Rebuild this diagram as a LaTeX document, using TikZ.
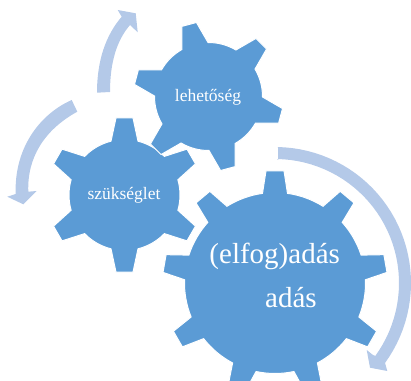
\documentclass[tikz,border=0pt]{standalone}
\usepackage{fontspec}
\setmainfont{Liberation Serif}
\definecolor{gearblue}{HTML}{5B9BD5}
\definecolor{arrowblue}{HTML}{B4C9E8}
\tikzset{
  gearshape/.style={fill=gearblue,draw=white,line width=1pt,line join=miter},
  arrowshape/.style={fill=arrowblue,draw=none},
  smalllabel/.style={text=white,anchor=base,inner sep=0pt,font=\fontsize{17.5}{20}\selectfont},
  biglabel/.style={text=white,anchor=base,inner sep=0pt,font=\fontsize{29}{34}\selectfont}
}
% centre x, centre y (from top), body radius, tip radius, teeth, first angle, tip half width, base half width
\newcommand{\gearat}[8]{%
  \pgfmathsetmacro{\gstep}{360/#5}%
  \pgfmathsetmacro{\gb}{asin(#8/#3)}%
  \pgfmathsetmacro{\gt}{asin(#7/#4)}%
  \pgfmathsetmacro{\gstart}{#6-\gb}%
  \pgfmathtruncatemacro{\glast}{#5-1}%
  \begin{scope}[shift={(#1pt,380pt-#2pt)}]
    \path[gearshape] (\gstart:#3pt)
      foreach \i [evaluate=\i as \a using #6+\i*\gstep] in {0,...,\glast} {
        -- ({\a-\gt}:#4pt) -- ({\a+\gt}:#4pt) -- ({\a+\gb}:#3pt)
        arc[start angle={\a+\gb},end angle={\a+\gstep-\gb},radius=#3pt]
      } -- cycle;
  \end{scope}%
}
\begin{document}
\begin{tikzpicture}[x=1pt,y=1pt]
  \useasboundingbox (0,0) rectangle (411,380);
  \clip (0,0) rectangle (411,380);
  \gearat{275}{283}{90.5}{112.5}{9}{90}{9}{12.5}
  \gearat{124.5}{195}{55.5}{77.5}{6}{90}{8.5}{13.5}
  \gearat{208.5}{96.5}{54}{75}{6}{105}{7.5}{13.5}
  \begin{scope}[yshift=380pt,yscale=-1]
    % upper arrow
    \path[arrowshape] (97,92.7) .. controls (97,60) and (106,35) .. (121.7,16.7)
      -- (117.7,10) -- (135.7,13.3) -- (137.7,32.3) -- (130,25)
      .. controls (117,40) and (110,62) .. (110,92) -- cycle;
    % left arrow
    \path[arrowshape] (71.7,100) .. controls (38,115) and (14,150) .. (15.7,194)
      -- (7.3,196.7) -- (23.3,204.3) -- (36.7,191) -- (28.3,191.7)
      .. controls (27,158) and (44,130) .. (77.3,111.7) -- cycle;
    % right arrow
    \path[arrowshape] (278,147.3)
      -- plot[domain=89:-36,samples=40] ({275+136*cos(\x)},{283-136*sin(\x)})
      -- (387.3,371) -- (370,367.7) -- (366.7,350) -- (373,355)
      -- plot[domain=-36:89,samples=40] ({275+124*cos(\x)},{283-124*sin(\x)})
      -- (278,160) -- cycle;
    \node[smalllabel] (opportunity) at (208,101.7) {lehetőség};
    \node[smalllabel] (need) at (124,200) {szükséglet};
    \node[biglabel] (accept) at (274.7,263.3) {(elfog)adás};
    \node[biglabel] (give) at (291,307.7) {adás};
  \end{scope}
\end{tikzpicture}
\end{document}
